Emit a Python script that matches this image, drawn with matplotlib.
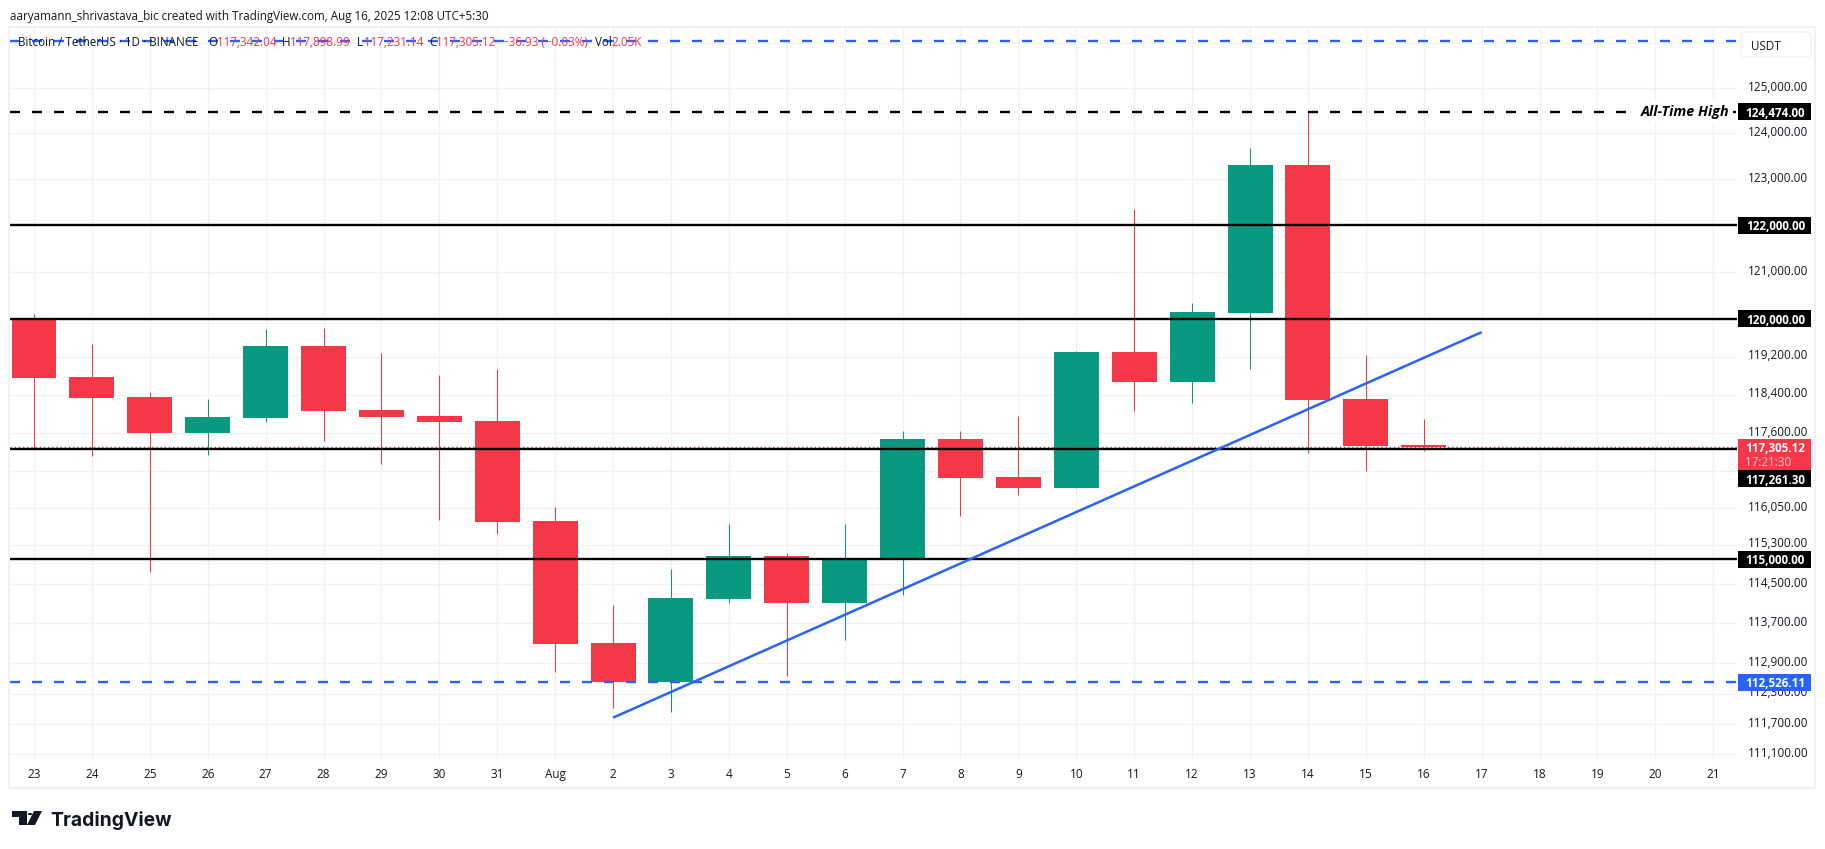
import matplotlib
matplotlib.use("Agg")
import matplotlib.pyplot as plt
from matplotlib.patches import Rectangle, Polygon, Circle, FancyBboxPatch
from matplotlib.ticker import FixedLocator, NullLocator, NullFormatter
from matplotlib.transforms import ScaledTranslation

days = [23, 24, 25, 26, 27, 28, 29, 30, 31, 'Aug', 2, 3, 4, 5, 6, 7, 8, 9, 10, 11, 12, 13, 14, 15, 16, 17, 18, 19, 20, 21]
opens = [119973, 118770, 118351, 117600, 117912, 119422, 118079, 117954, 117849, 115782, 113309, 112526,
         114195, 115068, 114114, 115007, 117475, 116688, 116460, 119295, 118665, 120122, 123309, 118309, 117342.04]
highs = [120100, 119465, 118456, 118309, 119782, 119804, 119274, 118812, 118937, 116070, 114074, 114803,
         115721, 115130, 115721, 117641, 117641, 117954, 119317, 122352, 120334, 123680, 124474, 119232, 117898.99]
lows = [117270, 117122, 114742, 117143, 117829, 117434, 116956, 115802, 115516, 112730, 112013, 111935,
        114114, 112651, 113370, 114276, 115884, 116316, 116460, 118058, 118225, 118937, 117184, 116812, 117231.14]
closes = [118748, 118330, 117600, 117933, 119422, 118058, 117933, 117829, 115761, 113290, 112526, 114215,
          115068, 114114, 115007, 117475, 116667, 116460, 119295, 118665, 120143, 123309, 118288, 117330, 117305.12]
price_ticks = [126000, 125000, 124000, 123000, 122000, 121000, 120000, 119200, 118400, 117600, 116800,
               116050, 115300, 114500, 113700, 112900, 112300, 111700, 111100]
hidden_ticks = [126000, 122000, 120000, 116800, 115000]
solid_levels = [122000, 120000, 117261.30, 115000]
ath_level = 124474.00
support_level = 112526.11
upper_blue_level = 126044
last_price = 117305.12
trend_x = [10, 25]
trend_y = [111821, 119715]

W, H = 1825, 849
RED, GREEN, BLUE, INK = '#F43848', '#089981', '#2962FF', '#131722'
GRID = '#F1F2F4'
FONT = 'Open Sans'
plt.rcParams['font.family'] = [FONT, 'DejaVu Sans']
LEVEL_LW = 1.7
DASH = (0, (7.2 / LEVEL_LW, 8.64 / LEVEL_LW))

fig = plt.figure(figsize=(W / 100, H / 100), dpi=100, facecolor='white')
L, R, T, B = 10, 1737, 27, 761
ax = fig.add_axes([L / W, 1 - B / H, (R - L) / W, (B - T) / H])
ax.set_yscale('log')
ax.set_xlim(-0.4145, 29.41)
ax.set_ylim(110967, 126356)
for s in ax.spines.values():
    s.set_visible(False)

xs = list(range(len(days)))
ax.set_xticks(xs)
ax.set_xticklabels([str(d) for d in days], fontsize=8.5, color=INK)
ax.yaxis.set_major_locator(FixedLocator(price_ticks))
ax.yaxis.set_minor_locator(NullLocator())
ax.yaxis.set_minor_formatter(NullFormatter())
ax.yaxis.tick_right()
ax.set_yticklabels(['' if p in hidden_ticks else f'{p:,.2f}' for p in price_ticks], fontsize=8.5, color=INK)
ax.tick_params(axis='both', length=0)
ax.tick_params(axis='y', pad=7.5)
ax.tick_params(axis='x', pad=5)
lift = ScaledTranslation(0, 1.5 / 72, fig.dpi_scale_trans)
for tl in ax.get_yticklabels():
    tl.set_transform(tl.get_transform() + lift)
ax.grid(True, color=GRID, lw=1.0)
ax.set_axisbelow(True)

for i, (o, h, l, c) in enumerate(zip(opens, highs, lows, closes)):
    col = GREEN if c >= o else RED
    ax.vlines(i, l, h, color=col, lw=0.75, zorder=3)
    ax.bar(i, abs(c - o), bottom=min(o, c), width=0.777, color=col, lw=0, zorder=3.1)

ax.axhline(last_price, color=RED, lw=1.0, ls=(0, (1, 2)), zorder=3.5)
for lv in solid_levels:
    ax.axhline(lv, color='black', lw=LEVEL_LW, zorder=4)
ax.axhline(ath_level, color='black', lw=LEVEL_LW, ls=DASH, zorder=4)
ax.axhline(support_level, color=BLUE, lw=LEVEL_LW, ls=DASH, zorder=4)
ax.axhline(upper_blue_level, color=BLUE, lw=LEVEL_LW, ls=DASH, zorder=4)
ax.plot(trend_x, trend_y, color=BLUE, lw=1.8, zorder=5, solid_capstyle='butt')


def y_px(price):
    return H - ax.transData.transform((0, price))[1]


def price_box(price, label, color, centre=None, height=17):
    cy = y_px(price) if centre is None else centre
    fig.add_artist(Rectangle((1738 / W, 1 - (cy + height / 2) / H), 73 / W, height / H,
                             transform=fig.transFigure, fc=color, ec='none', zorder=6))
    fig.text(1805 / W, 1 - cy / H, label, ha='right', va='center_baseline', color='white',
             fontsize=8.4, fontweight='bold', zorder=7)


price_box(ath_level, f'{ath_level:,.2f}', 'black')
price_box(122000, '122,000.00', 'black')
price_box(120000, '120,000.00', 'black')
price_box(115000, '115,000.00', 'black')
price_box(support_level, f'{support_level:,.2f}', BLUE)

# current price block and the offset label below it
cy = y_px(last_price)
fig.add_artist(Rectangle((1738 / W, 1 - 470 / H), 73 / W, 31 / H, transform=fig.transFigure, fc=RED, ec='none', zorder=6))
fig.text(1805 / W, 1 - 447 / H, f'{last_price:,.2f}', ha='right', va='center_baseline', color='white',
         fontsize=8.4, fontweight='bold', zorder=7)
fig.text(1791 / W, 1 - 461 / H, '17:21:30', ha='right', va='center_baseline', color='#FBC6CB', fontsize=8.4, zorder=7)
price_box(117261.30, '117,261.30', 'black', centre=478.5)

ax.annotate('All-Time High', xy=(1729 / W, 1 - y_px(ath_level) / H), xycoords='figure fraction',
            ha='right', va='center', fontsize=10.3, fontstyle='italic', fontweight='bold', color='black', zorder=8,
            bbox=dict(boxstyle='square,pad=0.25', fc='white', ec='none'), annotation_clip=False)

# outer frame and currency button
fig.add_artist(Rectangle((9 / W, 1 - 788 / H), 1806 / W, 761 / H, transform=fig.transFigure,
                         fc='none', ec='#F0F1F3', lw=1.5, zorder=1))
fig.add_artist(FancyBboxPatch((1741 / W, 1 - 57 / H), 70 / W, 25 / H, transform=fig.transFigure,
                              boxstyle='round,pad=0,rounding_size=0.003', fc='white', ec='#F0F3FA', lw=1.2, zorder=6))
fig.text(1751 / W, 1 - 44.7 / H, 'USDT', ha='left', va='center_baseline', fontsize=8.4, color=INK, zorder=7)

# header and legend
fig.text(10 / W, 1 - 15 / H, 'aaryamann_shrivastava_bic created with TradingView.com, Aug 16, 2025 12:08 UTC+5:30',
         ha='left', va='center_baseline', fontsize=8.35, color=INK)
legend = [
    (18, 'Bitcoin / TetherUS · 1D · BINANCE', INK), (208, 'O', INK), (217, f'{opens[-1]:,.2f}', RED),
    (282, 'H', INK), (290, f'{highs[-1]:,.2f}', RED), (356.5, 'L', INK), (364, f'{lows[-1]:,.2f}', RED),
    (429, 'C', INK), (436, f'{closes[-1]:,.2f}', RED), (502, '−36.93 (−0.03%)', RED),
    (595, 'Vol', INK), (611, '2.05K', RED),
]
for x, s, c in legend:
    fig.text(x / W, 1 - 41.5 / H, s, ha='left', va='center_baseline', fontsize=8.4, color=c, zorder=9)

# TradingView wordmark
LOGO = '#131722'
def px(pts):
    return [(x / W, 1 - y / H) for x, y in pts]
fig.add_artist(Polygon(px([(12, 811), (27, 811), (27, 825), (19, 825), (19, 817), (12, 817)]),
                       transform=fig.transFigure, fc=LOGO, ec='none'))
fig.add_artist(Polygon(px([(34, 811), (42, 811), (35, 825), (27, 825)]),
                       transform=fig.transFigure, fc=LOGO, ec='none'))
fig.add_artist(Circle((30 / W, 1 - 814 / H), 2.3 / W, transform=fig.transFigure, fc=LOGO, ec='none'))
fig.text(50 / W, 1 - 818 / H, 'TradingView', ha='left', va='center_baseline', fontsize=13.9,
         fontweight='bold', family='Inter', color=LOGO)

fig.savefig('out.png', dpi=100)
